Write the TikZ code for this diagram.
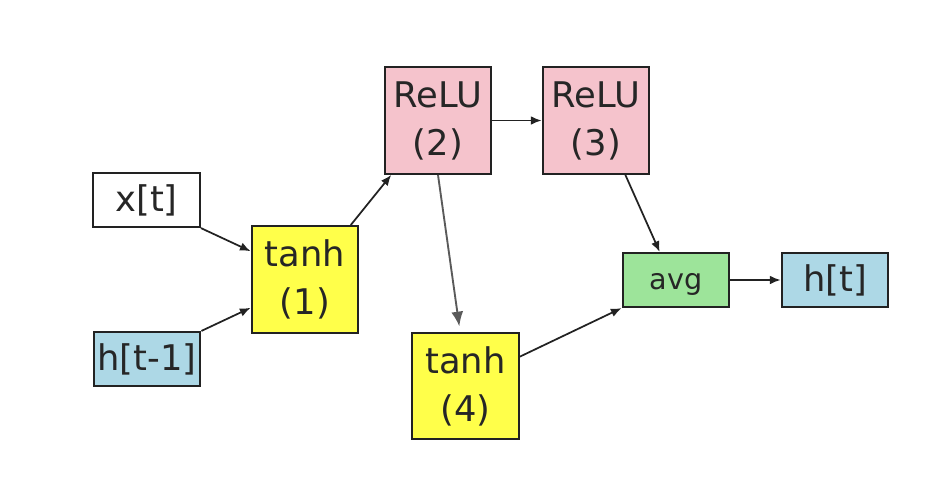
\documentclass[tikz,border=0pt]{standalone}
\usepackage{fontspec}
\setmainfont{DejaVu Sans}
\usetikzlibrary{arrows.meta,calc}
\definecolor{boxline}{HTML}{222222}
\definecolor{cyellow}{HTML}{FFFF4A}
\definecolor{cpink}{HTML}{F5C3CC}
\definecolor{cgreen}{HTML}{9DE49A}
\definecolor{cblue}{HTML}{ADD8E6}
\definecolor{cgray}{HTML}{5A5A5A}
\begin{document}
\begin{tikzpicture}[x=0.75pt,y=-0.75pt,
  unit/.style={draw=boxline,line width=1.6pt,inner sep=0pt,align=center,
    text=black!85,font=\fontsize{26.5}{36}\selectfont},
  widebox/.style={unit,minimum width=80pt,minimum height=40.5pt},
  bigbox/.style={unit,minimum width=80pt,minimum height=80pt},
  conn/.style={draw=boxline,line width=1.3pt,-{Latex[length=8pt,width=6.5pt]}},
  grayconn/.style={draw=cgray,line width=1.4pt,-{Latex[length=11pt,width=9pt]}}]
\useasboundingbox (0,0) rectangle (942,490);
\fill[white] (0,0) rectangle (942,490);

% inputs
\node[widebox,fill=white] (xt) at (146.5,200) {x[t]};
\node[widebox,fill=cblue] (hprev) at (147,359) {h[t-1]};

% cell operations
\node[bigbox,fill=cyellow] (tanhA) at (305,279.5) {tanh\\(1)};
\node[bigbox,fill=cpink] (reluB) at (438,120.5) {ReLU\\(2)};
\node[bigbox,fill=cpink] (reluC) at (596,120.5) {ReLU\\(3)};
\node[bigbox,fill=cyellow] (tanhD) at (465.5,386) {tanh\\(4)};
\node[widebox,fill=cgreen,font=\fontsize{21.5}{26}\selectfont,
  text height=16pt,text depth=2.5pt] (avg) at (676,280) {avg};
\node[widebox,fill=cblue] (ht) at (835,280) {h[t]};

% connections
\draw[conn] (xt.south east) -- ($(tanhA.north west)!0.24!(tanhA.south west)$);
\draw[conn] (hprev.north east) -- ($(tanhA.north west)!0.76!(tanhA.south west)$);
\draw[conn] ($(tanhA.north west)!0.92!(tanhA.north east)$) -- ($(reluB.south west)!0.07!(reluB.south east)$);
\draw[conn] (reluB.east) -- (reluC.west);
\draw[grayconn,shorten >=4pt] (reluB.south) -- ($(tanhD.north west)!0.45!(tanhD.north east)$);
\draw[conn] ($(reluC.south west)!0.77!(reluC.south east)$) -- ($(avg.north west)!0.35!(avg.north east)$);
\draw[conn] ($(tanhD.north east)!0.23!(tanhD.south east)$) -- (avg.south west);
\draw[conn] (avg.east) -- (ht.west);
\end{tikzpicture}
\end{document}
